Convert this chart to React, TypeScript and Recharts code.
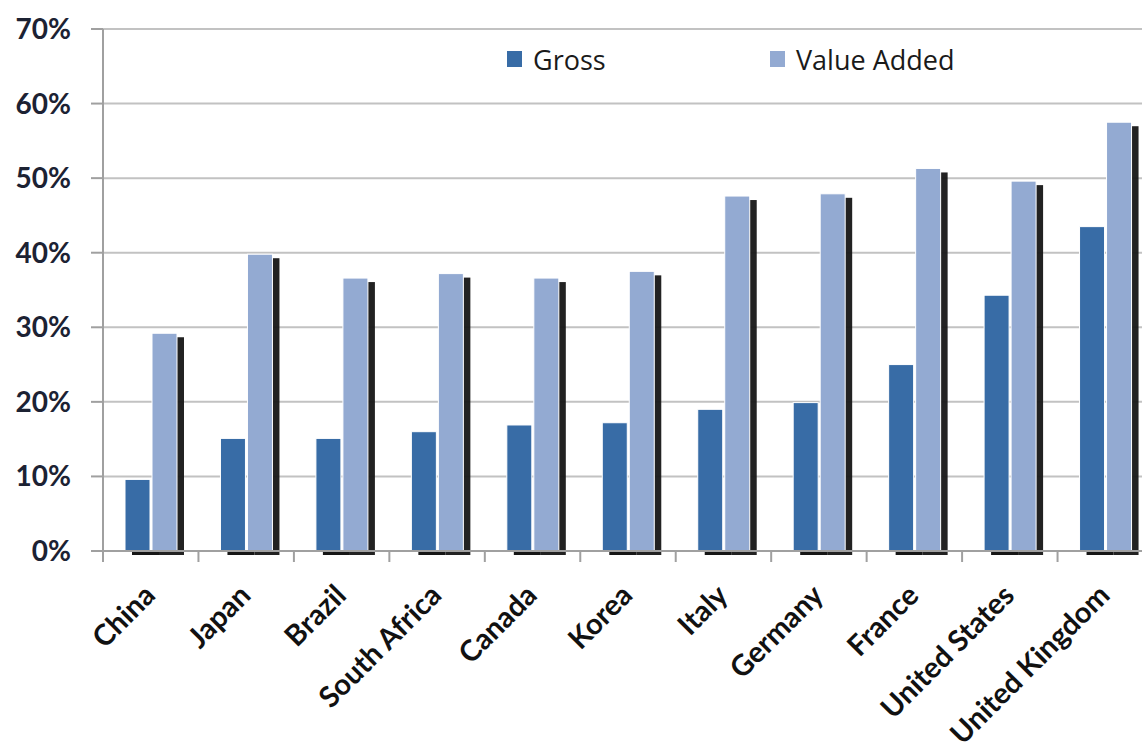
import React from "react";
import { BarChart, Bar, XAxis, YAxis, CartesianGrid, Legend } from "recharts";

const countries = [
  "China", "Japan", "Brazil", "South Africa", "Canada", "Korea",
  "Italy", "Germany", "France", "United States", "United Kingdom",
];
const gross = [9.6, 15.1, 15.1, 16.0, 16.9, 17.2, 19.0, 19.9, 25.0, 34.3, 43.5];
const valueAdded = [29.2, 39.8, 36.6, 37.2, 36.6, 37.5, 47.6, 47.9, 51.3, 49.6, 57.5];
const yTicks = [0, 10, 20, 30, 40, 50, 60, 70];

const data = countries.map((name, i) => ({ name, gross: gross[i], valueAdded: valueAdded[i] }));

const WIDTH = 1142;
const HEIGHT = 753;
const Y_AXIS_W = 103;
const RIGHT = -11;
const BAND = (WIDTH - Y_AXIS_W - RIGHT) / countries.length;

const GROSS_COLOR = "#386ca6";
const VA_COLOR = "#93aad2";
const SHADOW = "#161616";
const AXIS_COLOR = "#a0a0a0";
const FONT = "Lato, 'DejaVu Sans', sans-serif";

// gross bars: only the strip of shadow below the baseline ever shows,
// the rest sits behind the value-added bar
const grossBar = (props: any) => {
  const { x, y, width, height, fill } = props;
  if (height <= 0) return <g />;
  return (
    <g>
      <rect x={x + 7} y={y + height} width={width + 2} height={4} fill={SHADOW} />
      <rect x={x} y={y} width={width} height={height} fill={fill} stroke="#ffffff" strokeWidth={1} />
    </g>
  );
};

// value-added bars with a dark drop shadow offset down and to the right
const vaBar = (props: any) => {
  const { x, y, width, height, fill } = props;
  if (height <= 0) return <g />;
  return (
    <g>
      <rect x={x + 7} y={y + 4} width={width} height={height} fill={SHADOW} fillOpacity={0.95} />
      <rect x={x} y={y} width={width} height={height} fill={fill} stroke="#ffffff" strokeWidth={1} />
    </g>
  );
};

function CountryTick(props: any) {
  const { x, y, payload } = props;
  const bx = x - BAND / 2;
  const ax = x - 1;
  const ay = y + 39;
  return (
    <g>
      <line x1={bx} x2={bx} y1={y} y2={y + 11} stroke={AXIS_COLOR} strokeWidth={2} />
      <text
        x={ax}
        y={ay}
        dy="0.35em"
        textAnchor="end"
        transform={`rotate(-45 ${ax} ${ay})`}
        fontFamily={FONT}
        fontWeight={700}
        fontSize={29}
        fill="#111"
      >
        {payload.value}
      </text>
    </g>
  );
}

function LegendBox() {
  const items = [
    { label: "Gross", color: GROSS_COLOR, left: 7 },
    { label: "Value Added", color: VA_COLOR, left: 270 },
  ];
  return (
    <div style={{ position: "relative", height: 36 }}>
      {items.map((it) => (
        <div
          key={it.label}
          style={{
            position: "absolute",
            left: it.left,
            top: 0,
            height: 36,
            display: "flex",
            alignItems: "center",
            fontFamily: "'Open Sans', sans-serif",
            fontSize: 27,
            color: "#1a1a1a",
            whiteSpace: "nowrap",
          }}
        >
          <span style={{ width: 15, height: 16, background: it.color, display: "inline-block", marginRight: 11 }} />
          {it.label}
        </div>
      ))}
    </div>
  );
}

export default function App() {
  return (
    <div style={{ position: "absolute", left: 0, top: 0, width: WIDTH, height: HEIGHT, background: "#fff" }}>
      <BarChart
        width={WIDTH}
        height={HEIGHT}
        data={data}
        margin={{ top: 29, right: RIGHT, bottom: 0, left: 0 }}
        barSize={25}
        barGap={2}
      >
        <CartesianGrid vertical={false} stroke="#c2c2c2" strokeWidth={2} />
        <XAxis
          dataKey="name"
          height={202}
          interval={0}
          tickSize={0}
          tickMargin={0}
          tickLine={false}
          axisLine={{ stroke: AXIS_COLOR, strokeWidth: 2 }}
          tick={<CountryTick />}
        />
        <YAxis
          width={Y_AXIS_W}
          domain={[0, 70]}
          ticks={yTicks}
          tickFormatter={(v: number) => `${v}%`}
          tickSize={12}
          tickMargin={20}
          axisLine={{ stroke: AXIS_COLOR, strokeWidth: 2 }}
          tickLine={{ stroke: AXIS_COLOR, strokeWidth: 2 }}
          tick={{ fontFamily: FONT, fontWeight: 700, fontSize: 28, fill: "#1c2233" }}
        />
        <Legend
          layout="horizontal"
          verticalAlign="middle"
          align="center"
          content={<LegendBox />}
          wrapperStyle={{ top: 41, left: 500, width: 520, height: 36 }}
        />
        <Bar dataKey="gross" name="Gross" fill={GROSS_COLOR} shape={grossBar} isAnimationActive={false} />
        <Bar dataKey="valueAdded" name="Value Added" fill={VA_COLOR} shape={vaBar} isAnimationActive={false} />
      </BarChart>
    </div>
  );
}
